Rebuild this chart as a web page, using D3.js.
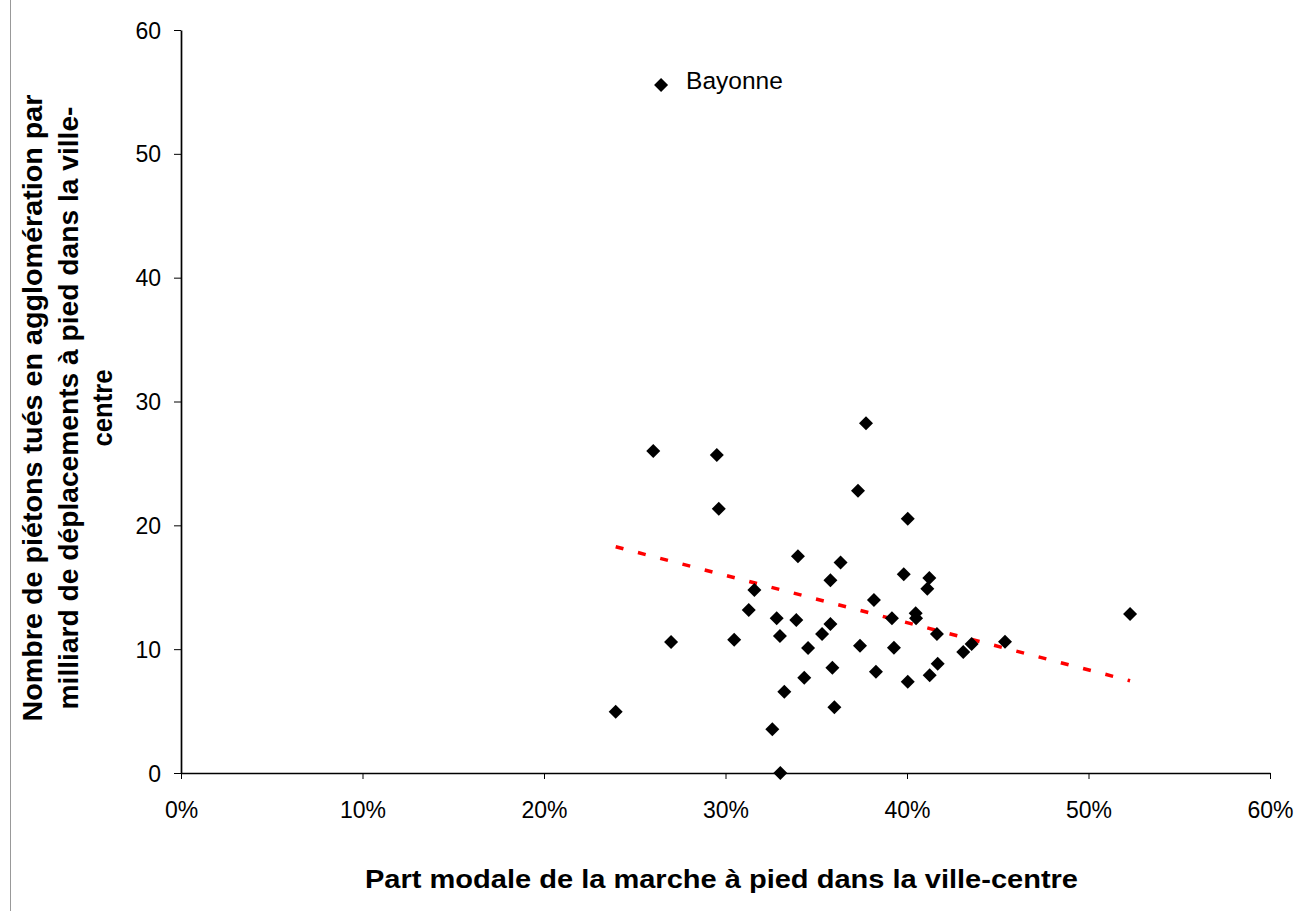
<!DOCTYPE html>
<html><head><meta charset="utf-8">
<script src="https://cdn.jsdelivr.net/npm/d3@7"></script>
<style>html,body{margin:0;padding:0;background:#fff;}svg{display:block;}</style>
</head><body>
<svg id="c" width="1296" height="911"></svg>
<script>
// Part modale de la marche (%) et piétons tués / milliard de déplacements
const walkShare = [23.95,26.02,26.45,27.00,29.52,29.63,30.48,31.28,31.59,32.58,32.82,33.00,33.02,33.24,33.90,33.99,34.34,34.55,35.32,35.78,35.78,35.89,36.00,36.34,37.30,37.41,37.74,38.18,38.29,39.17,39.28,39.82,40.04,40.04,40.48,40.50,41.12,41.23,41.25,41.65,41.69,43.10,43.56,45.40,52.29];
const deathRate = [4.95,26.00,55.55,10.58,25.68,21.34,10.76,13.16,14.78,3.53,12.49,11.06,0.0,6.57,12.36,17.50,7.70,10.09,11.23,15.56,12.03,8.50,5.31,17.00,22.80,10.28,28.24,13.97,8.18,12.49,10.12,16.05,20.54,7.37,12.90,12.49,14.88,15.75,7.89,11.23,8.83,9.77,10.42,10.60,12.84];
const pointLabels = ["","","Bayonne","","","","","","","","","","","","","","","","","","","","","","","","","","","","","","","","","","","","","","","","","",""];
const trendX = [23.95, 52.29];
const trendY = [18.27, 7.45];
const xTicks = [0,10,20,30,40,50,60];
const xTickLabels = ["0%","10%","20%","30%","40%","50%","60%"];
const yTicks = [0,10,20,30,40,50,60];
const xTitle = "Part modale de la marche à pied dans la ville-centre";
const yTitleLines = ["Nombre de piétons tués en agglomération par","milliard de déplacements à pied dans la ville-","centre"];

const svg = d3.select("#c");
const L = 181, R = 1270, T = 30, B = 773;
const x = d3.scaleLinear().domain([0,60]).range([L,R]);
const y = d3.scaleLinear().domain([0,60]).range([B,T]);
const font = "'Liberation Sans', Arial, Helvetica, sans-serif";

// left frame line
svg.append("line").attr("x1",10.5).attr("x2",10.5).attr("y1",0).attr("y2",911)
  .attr("stroke","#999").attr("stroke-width",1);

// axes
const xAxis = d3.axisBottom(x).tickValues(xTicks).tickFormat((d,i)=>xTickLabels[i]).tickSize(6).tickSizeOuter(0);
const gx = svg.append("g").attr("transform",`translate(0,${B})`).call(xAxis);
const yAxis = d3.axisLeft(y).tickValues(yTicks).tickSize(7).tickSizeOuter(0);
const gy = svg.append("g").attr("transform",`translate(${L},0)`).call(yAxis);
[gx,gy].forEach(g=>{
  g.select(".domain").attr("stroke","#000").attr("stroke-width",1.7);
  g.selectAll(".tick line").attr("stroke","#000").attr("stroke-width",1);
  g.selectAll(".tick text").attr("fill","#000").style("font-family",font).style("font-size","23px");
});
gx.selectAll(".tick text").attr("dy",0).attr("y",45);
gy.selectAll(".tick text").attr("x",-20).attr("dy","0.35em");

// trend line
svg.append("line")
  .attr("x1",x(trendX[0])).attr("y1",y(trendY[0]))
  .attr("x2",x(trendX[1])).attr("y2",y(trendY[1]))
  .attr("stroke","#ff0000").attr("stroke-width",3.5).attr("stroke-dasharray","8,15");

// points
const pts = walkShare.map((v,i)=>({x:v,y:deathRate[i],label:pointLabels[i]}));
const r = 7;
svg.append("g").selectAll("path").data(pts).join("path")
  .attr("d",d=>{const cx=x(d.x), cy=y(d.y); return `M${cx},${cy-r}L${cx+r},${cy}L${cx},${cy+r}L${cx-r},${cy}Z`;})
  .attr("fill","#000");

svg.append("g").selectAll("text").data(pts.filter(d=>d.label)).join("text")
  .attr("x",d=>x(d.x)+25).attr("y",d=>y(d.y)+4)
  .style("font-family",font).style("font-size","24.5px").attr("fill","#000")
  .text(d=>d.label);

// x title
svg.append("text").attr("x",(365+1078)/2).attr("y",888).attr("text-anchor","middle")
  .attr("textLength",713).attr("lengthAdjust","spacingAndGlyphs")
  .style("font-family",font).style("font-size","25px").style("font-weight","bold").text(xTitle);

// y title
const yBase = [42,78,112];
const yLens = [627,603,77];
const cy = 408;
yTitleLines.forEach((t,i)=>{
  svg.append("text")
    .attr("transform",`translate(${yBase[i]},${cy}) rotate(-90)`)
    .attr("text-anchor","middle")
    .attr("textLength",yLens[i]).attr("lengthAdjust","spacingAndGlyphs")
    .style("font-family",font).style("font-size","28px").style("font-weight","bold").text(t);
});
</script>
</body></html>
